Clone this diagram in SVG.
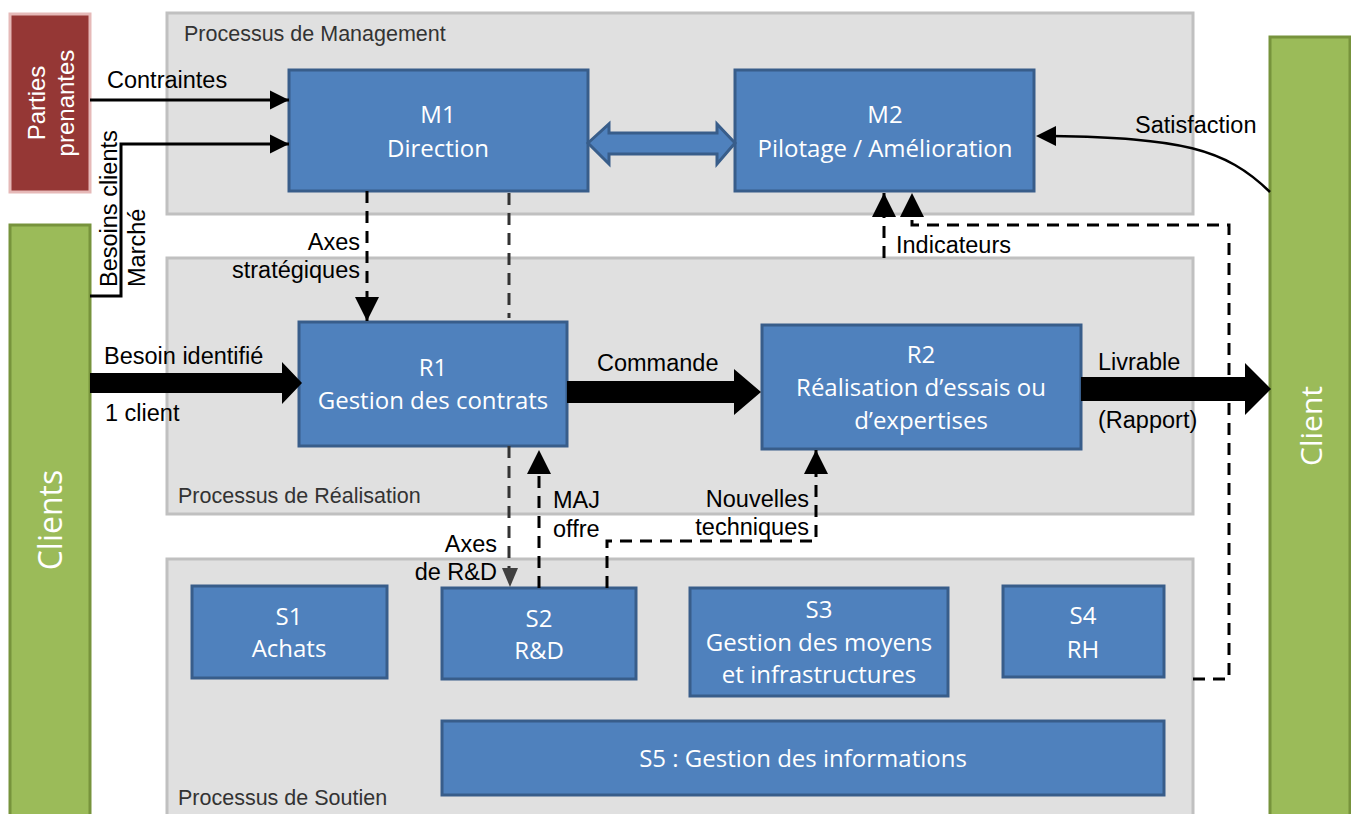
<svg xmlns="http://www.w3.org/2000/svg" width="1351" height="814" viewBox="0 0 1351 814">
<defs>
<style>
.panel{fill:#e0e0e0;stroke:#c0c0c0;stroke-width:3}
.node{fill:#4f81bd;stroke:#385d8a;stroke-width:3}
.nt{font-family:"Open Sans","Noto Sans",sans-serif;font-size:24px;fill:#ffffff;text-anchor:middle}
.lbl{font-family:"Liberation Sans",Arial,sans-serif;font-size:23.5px;fill:#000000}
.plbl{font-family:"Liberation Sans",Arial,sans-serif;font-size:21.5px;fill:#333333}
.solid{fill:none;stroke:#000;stroke-width:3}
.dash{fill:none;stroke:#000;stroke-width:3;stroke-dasharray:12 8}
.dashg{fill:none;stroke:#333;stroke-width:3;stroke-dasharray:12 8}
.big{fill:#000}
</style>
<marker id="ah" viewBox="0 0 10 10" refX="10" refY="5" markerWidth="6.5" markerHeight="6.5" markerUnits="strokeWidth" orient="auto">
<path d="M0,0 L10,5 L0,10 z" fill="#000"/>
</marker>
<marker id="ahs" viewBox="0 0 10 10" refX="10" refY="5" markerWidth="8" markerHeight="8" markerUnits="strokeWidth" orient="auto">
<path d="M0,0 L10,5 L0,10 z" fill="#000"/>
</marker>
</defs>

<!-- panels -->
<g id="panel-management">
<rect class="panel" x="167" y="13" width="1026" height="201"/>
<text class="plbl" x="184" y="41">Processus de Management</text>
</g>
<g id="panel-realisation">
<rect class="panel" x="167" y="258" width="1026" height="256"/>
<text class="plbl" x="178" y="503">Processus de Réalisation</text>
</g>
<g id="panel-soutien">
<rect class="panel" x="167" y="559" width="1026" height="270"/>
<text class="plbl" x="178" y="805">Processus de Soutien</text>
</g>

<!-- external actors -->
<g id="parties-prenantes">
<rect x="10" y="14" width="80" height="178" fill="#953735" stroke="#e6b9b8" stroke-width="3"/>
<text font-family="Liberation Sans, Arial, sans-serif" font-size="24" fill="#fff" text-anchor="middle" transform="translate(45,103) rotate(-90)">Parties</text>
<text font-family="Liberation Sans, Arial, sans-serif" font-size="24" fill="#fff" text-anchor="middle" transform="translate(74,103) rotate(-90)">prenantes</text>
</g>
<g id="clients">
<rect x="10" y="225" width="80" height="610" fill="#9bbb59" stroke="#77933c" stroke-width="3"/>
<text font-family="Open Sans, Noto Sans, sans-serif" font-size="32" fill="#fff" text-anchor="middle" transform="translate(62,520) rotate(-90)">Clients</text>
</g>
<g id="client">
<rect x="1270" y="37" width="80" height="800" fill="#9bbb59" stroke="#77933c" stroke-width="3"/>
<text font-family="Open Sans, Noto Sans, sans-serif" font-size="30" fill="#fff" text-anchor="middle" transform="translate(1322,426) rotate(-90)">Client</text>
</g>

<!-- process nodes -->
<g id="M1">
<rect class="node" x="289" y="70" width="299" height="121"/>
<text class="nt" x="438" y="123">M1</text>
<text class="nt" x="438" y="157">Direction</text>
</g>
<g id="M2">
<rect class="node" x="735" y="70" width="299" height="121"/>
<text class="nt" x="885" y="123">M2</text>
<text class="nt" x="885" y="157">Pilotage / Amélioration</text>
</g>
<g id="R1">
<rect class="node" x="299" y="322" width="268" height="124"/>
<text class="nt" x="433" y="376">R1</text>
<text class="nt" x="433" y="409">Gestion des contrats</text>
</g>
<g id="R2">
<rect class="node" x="762" y="325" width="319" height="124"/>
<text class="nt" x="921" y="363">R2</text>
<text class="nt" x="921" y="396">Réalisation d’essais ou</text>
<text class="nt" x="921" y="429">d’expertises</text>
</g>
<g id="S1">
<rect class="node" x="192" y="586" width="195" height="92"/>
<text class="nt" x="289" y="625">S1</text>
<text class="nt" x="289" y="657">Achats</text>
</g>
<g id="S2">
<rect class="node" x="442" y="588" width="194" height="91"/>
<text class="nt" x="539" y="627">S2</text>
<text class="nt" x="539" y="659">R&amp;D</text>
</g>
<g id="S3">
<rect class="node" x="690" y="588" width="258" height="108"/>
<text class="nt" x="819" y="618">S3</text>
<text class="nt" x="819" y="651">Gestion des moyens</text>
<text class="nt" x="819" y="683">et infrastructures</text>
</g>
<g id="S4">
<rect class="node" x="1003" y="586" width="161" height="91"/>
<text class="nt" x="1083" y="624">S4</text>
<text class="nt" x="1083" y="658">RH</text>
</g>
<g id="S5">
<rect class="node" x="442" y="721" width="722" height="74"/>
<text class="nt" x="803" y="767">S5 : Gestion des informations</text>
</g>

<!-- connectors -->
<g id="connectors">
<path class="solid" d="M90,100 H289" marker-end="url(#ah)"/>
<path class="solid" d="M90,296 H121 V144 H289" marker-end="url(#ah)"/>
<path d="M588,143 L609,124 L609,133 L717,133 L717,124 L735,143 L717,164 L717,154 L609,154 L609,164 Z" fill="#4f81bd" stroke="#385d8a" stroke-width="3" stroke-linejoin="miter"/>
<path class="dash" d="M367,191 V321" marker-end="url(#ahs)"/>
<path class="dashg" d="M509,193 V318"/>
<path class="dashg" d="M509,446 V572"/>
<path d="M502,568 L518,568 L510,587 Z" fill="#404040"/>
<path class="dash" d="M539,588 V450" marker-end="url(#ahs)"/>
<path class="dash" d="M607,588 V541 H816 V450" marker-end="url(#ahs)"/>
<path class="dash" d="M884,258 V193" marker-end="url(#ahs)"/>
<path class="dash" d="M1193,679 H1229 V225 H912 V193" marker-end="url(#ahs)"/>
<path d="M1270,192 C1225,148 1180,138 1052,136" fill="none" stroke="#000" stroke-width="2.5"/>
<path d="M1036,136 L1056,126 L1056,146 Z" fill="#000"/>
<path class="big" d="M90,373 H282 V362 L302,383 L282,404 V393 H90 Z"/>
<path class="big" d="M567,381 H734 V369 L761,392 L734,415 V403 H567 Z"/>
<path class="big" d="M1081,377 H1245 V363 L1271,389 L1245,415 V401 H1081 Z"/>
</g>

<!-- connector labels -->
<g id="labels">
<text class="lbl" x="107" y="88">Contraintes</text>
<text class="lbl" transform="translate(117,287) rotate(-90)">Besoins clients</text>
<text class="lbl" transform="translate(145,287) rotate(-90)">Marché</text>
<text class="lbl" x="104" y="364">Besoin identifié</text>
<text class="lbl" x="105" y="421">1 client</text>
<text class="lbl" x="360" y="250" text-anchor="end">Axes</text>
<text class="lbl" x="360" y="278" text-anchor="end">stratégiques</text>
<text class="lbl" x="597" y="371">Commande</text>
<text class="lbl" x="1098" y="370">Livrable</text>
<text class="lbl" x="1098" y="428">(Rapport)</text>
<text class="lbl" x="1135" y="133">Satisfaction</text>
<text class="lbl" x="896" y="253">Indicateurs</text>
<text class="lbl" x="497" y="552" text-anchor="end">Axes</text>
<text class="lbl" x="497" y="580" text-anchor="end">de R&amp;D</text>
<text class="lbl" x="553" y="508">MAJ</text>
<text class="lbl" x="553" y="537">offre</text>
<text class="lbl" x="809" y="507" text-anchor="end">Nouvelles</text>
<text class="lbl" x="809" y="535" text-anchor="end">techniques</text>
</g>
</svg>
